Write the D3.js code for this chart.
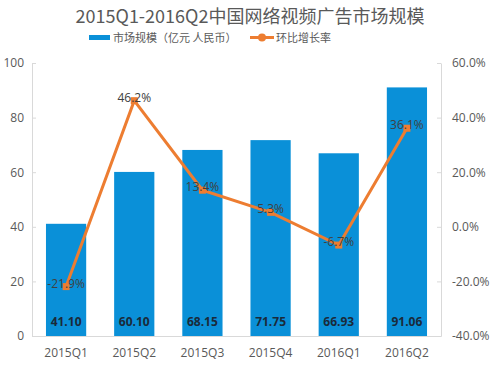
<!DOCTYPE html>
<html><head><meta charset="utf-8">
<script src="https://cdn.jsdelivr.net/npm/d3@7"></script>
<style>body{margin:0;background:#fff}svg{display:block;font-family:"Noto Sans CJK SC","Open Sans",sans-serif}</style>
</head><body><svg id="c" width="500" height="365"></svg>
<script>
const categories = ["2015Q1","2015Q2","2015Q3","2015Q4","2016Q1","2016Q2"];
const marketSize = [41.10, 60.10, 68.15, 71.75, 66.93, 91.06];
const growthRate = [-21.9, 46.2, 13.4, 5.3, -6.7, 36.1];
const leftTicks = [0,20,40,60,80,100];
const rightTicks = [-40,-20,0,20,40,60];

const svg = d3.select("#c");
const L = 32, R = 441, T = 63, B = 336;
const x = d3.scaleBand().domain(categories).range([L, R]).paddingInner(0.41).paddingOuter(0.205);
const yL = d3.scaleLinear().domain([0,100]).range([B,T]);
const yR = d3.scaleLinear().domain([-40,60]).range([B,T]);
const txt = "#595959";

svg.append("text").attr("x",250).attr("y",23).attr("text-anchor","middle")
  .attr("font-size",18).attr("fill",txt).text("2015Q1-2016Q2中国网络视频广告市场规模");

// legend
svg.append("rect").attr("x",89).attr("y",35).attr("width",21).attr("height",5).attr("fill","#0a90d8");
svg.append("text").attr("x",113).attr("y",42).attr("font-size",11).attr("fill",txt).text("市场规模（亿元  人民币）");
svg.append("line").attr("x1",250).attr("x2",274).attr("y1",37.5).attr("y2",37.5).attr("stroke","#ed7d31").attr("stroke-width",3);
svg.append("circle").attr("cx",262).attr("cy",37.5).attr("r",4).attr("fill","#ed7d31");
svg.append("text").attr("x",276).attr("y",42).attr("font-size",11).attr("fill",txt).text("环比增长率");

// axes
const axL = svg.append("g").attr("transform",`translate(${L},0)`)
  .call(d3.axisLeft(yL).tickValues(leftTicks).tickSize(0).tickPadding(8));
axL.select(".domain").attr("stroke","#d9d9d9");
axL.selectAll("text").attr("font-size",12).attr("fill",txt).attr("font-family","Open Sans, sans-serif");
axL.selectAll(".tick").append("line").attr("x1",0).attr("x2",4).attr("stroke","#d9d9d9");

const axR = svg.append("g").attr("transform",`translate(${R},0)`)
  .call(d3.axisRight(yR).tickValues(rightTicks).tickSize(0).tickPadding(11).tickFormat(d=>d.toFixed(1)+"%"));
axR.select(".domain").attr("stroke","#d9d9d9");
axR.selectAll("text").attr("font-size",12).attr("fill",txt).attr("font-family","Open Sans, sans-serif");
axR.selectAll(".tick").append("line").attr("x1",0).attr("x2",-4).attr("stroke","#d9d9d9");

const axB = svg.append("g").attr("transform",`translate(0,${B})`)
  .call(d3.axisBottom(x).tickSize(0).tickPadding(12));
axB.select(".domain").attr("stroke","#d9d9d9");
axB.selectAll("text").attr("font-size",12).attr("fill",txt).attr("font-family","Open Sans, sans-serif");

// bars
svg.selectAll("rect.bar").data(marketSize).enter().append("rect").attr("class","bar")
  .attr("x",(d,i)=>x(categories[i])).attr("width",x.bandwidth())
  .attr("y",d=>yL(d)).attr("height",d=>B-yL(d)).attr("fill","#0a90d8");
svg.selectAll("text.bv").data(marketSize).enter().append("text").attr("class","bv")
  .attr("x",(d,i)=>x(categories[i])+x.bandwidth()/2).attr("y",B-10)
  .attr("text-anchor","middle").attr("font-size",12).attr("font-weight","bold")
  .attr("font-family","Open Sans, sans-serif").attr("fill","#1a2a3a").text(d=>d.toFixed(2));

// line
const cx = (i)=>x(categories[i])+x.bandwidth()/2;
svg.append("path").datum(growthRate)
  .attr("d", d3.line().x((d,i)=>cx(i)).y(d=>yR(d)))
  .attr("fill","none").attr("stroke","#ed7d31").attr("stroke-width",3);
svg.selectAll("rect.mk").data(growthRate).enter().append("rect").attr("class","mk")
  .attr("x",(d,i)=>cx(i)-3.5).attr("y",d=>yR(d)-3.5).attr("width",7).attr("height",7).attr("fill","#ed7d31");
svg.selectAll("text.gv").data(growthRate).enter().append("text").attr("class","gv")
  .attr("x",(d,i)=>cx(i)).attr("y",d=>yR(d)+1)
  .attr("text-anchor","middle").attr("font-size",12)
  .attr("font-family","Open Sans, sans-serif").attr("fill","#404040").text(d=>d.toFixed(1)+"%");
</script></body></html>
